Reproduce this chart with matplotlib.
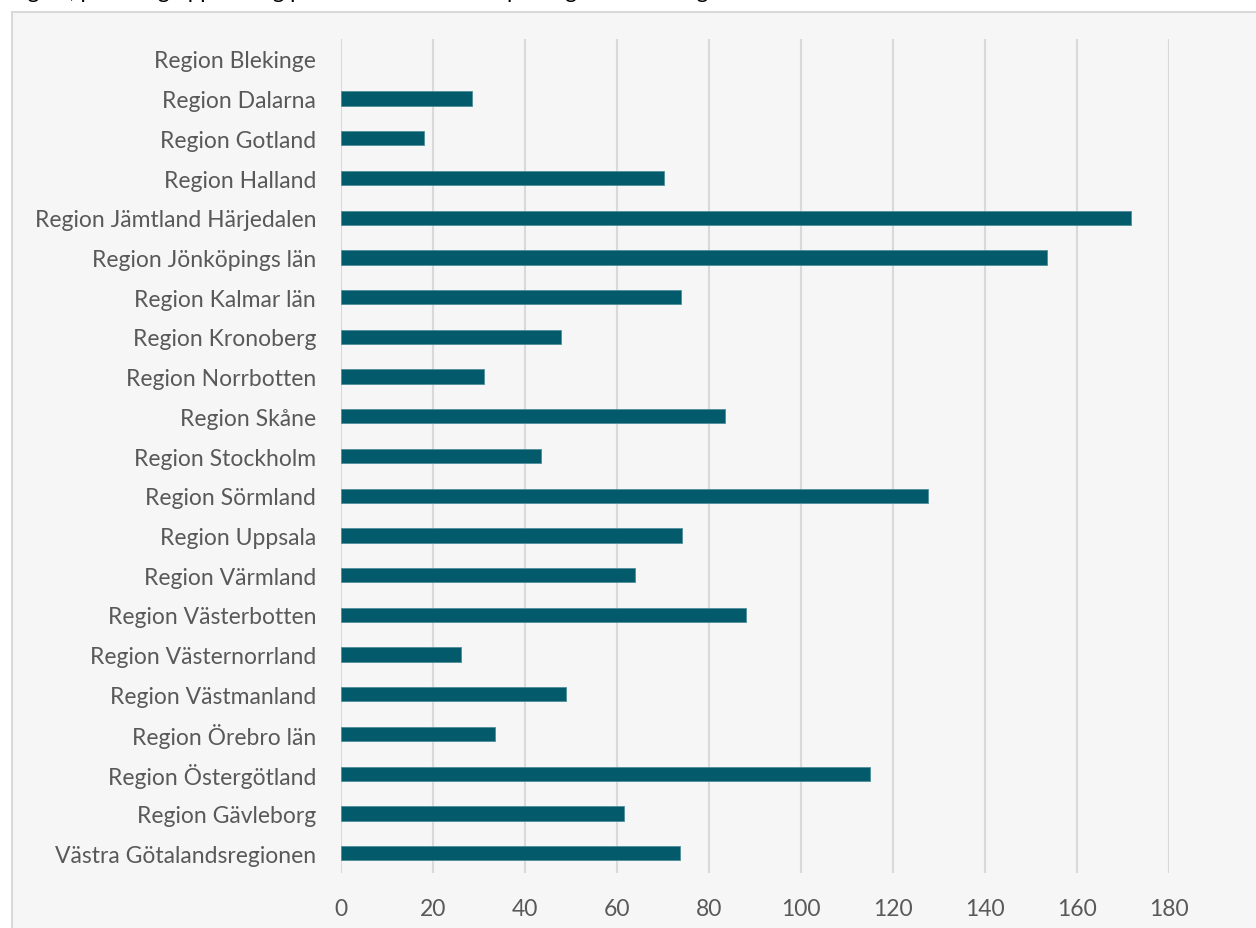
import matplotlib
matplotlib.use("Agg")
import matplotlib.pyplot as plt
from matplotlib.patches import Rectangle

regions = [
    "Region Blekinge", "Region Dalarna", "Region Gotland", "Region Halland",
    "Region Jämtland Härjedalen", "Region Jönköpings län", "Region Kalmar län",
    "Region Kronoberg", "Region Norrbotten", "Region Skåne", "Region Stockholm",
    "Region Sörmland", "Region Uppsala", "Region Värmland", "Region Västerbotten",
    "Region Västernorrland", "Region Västmanland", "Region Örebro län",
    "Region Östergötland", "Region Gävleborg", "Västra Götalandsregionen",
]
values = [0, 28.4, 18.0, 70.3, 171.7, 153.5, 73.9, 47.8, 31.1, 83.5, 43.5,
          127.6, 74.1, 63.9, 88.0, 26.1, 48.9, 33.5, 115.0, 61.5, 73.8]
xticks = [0, 20, 40, 60, 80, 100, 120, 140, 160, 180]
title = "Region, placering uppdelning per 100 000 invånare per region och kategori"

W, H = 1256, 929
plt.rcParams['font.family'] = ['Lato', 'DejaVu Sans']
fig = plt.figure(figsize=(W / 100, H / 100), dpi=100, facecolor="white")

# chart area background
fig.patches.append(Rectangle((12 / W, -0.01), 1.0, 1 - 12.5 / H + 0.01,
                             transform=fig.transFigure, facecolor="#f6f6f6",
                             edgecolor="#d9d9d9", linewidth=1.5, zorder=-1))

fig.text(2 / W, 1 + 2 / H, title, fontsize=16, va="baseline", ha="left", color="#000000")

ax = fig.add_axes([341 / W, 1 - 874 / H, (1169 - 341) / W, (874 - 40) / H])
ax.set_facecolor("none")
y = list(range(len(regions)))
bars = ax.barh(y, values, height=0.36, color="#035a6a", edgecolor="#4f8e9a",
               linewidth=0.6, zorder=3)
for b, v in zip(bars, values):
    if v == 0:
        b.set_linewidth(0)
ax.set_ylim(len(regions) - 0.5, -0.5)
ax.set_xlim(0, 180)
ax.set_xticks(xticks)
ax.set_xticklabels([str(t) for t in xticks])
ax.set_yticks(y)
ax.set_yticklabels(regions)
ax.grid(axis="x", color="#d9d9d9", linewidth=1.5, zorder=0)
ax.set_axisbelow(True)
for s in ax.spines.values():
    s.set_visible(False)
ax.tick_params(axis="both", length=0, labelsize=16.5, colors="#595959")
ax.tick_params(axis="x", pad=18)
ax.tick_params(axis="y", pad=18)

fig.savefig("out.png", dpi=100, facecolor="white")
